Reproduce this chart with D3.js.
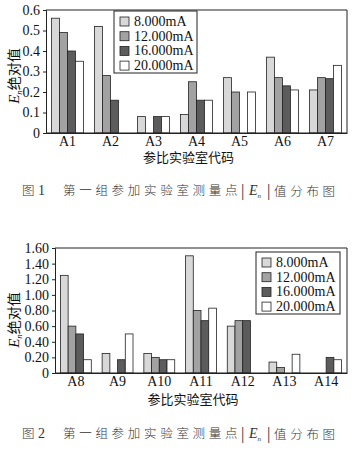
<!DOCTYPE html>
<html>
<head>
<meta charset="utf-8">
<script src="https://cdn.jsdelivr.net/npm/d3@7"></script>
<style>
  body { margin: 0; background: #fff; }
  text { font-family: "Liberation Serif", "Noto Sans CJK SC", serif; }
</style>
</head>
<body>
<div id="chart"></div>
<script>
// data
var series = ["8.000mA", "12.000mA", "16.000mA", "20.000mA"];
var colors = ["#d8d8d8", "#a2a2a2", "#5c5c5c", "#ffffff"];

var labs1 = ["A1", "A2", "A3", "A4", "A5", "A6", "A7"];
var s1_8  = [0.56, 0.52, 0.08, 0.09, 0.27, 0.37, 0.21];
var s1_12 = [0.49, 0.28, 0, 0.25, 0.20, 0.27, 0.27];
var s1_16 = [0.40, 0.16, 0.08, 0.16, 0, 0.23, 0.265];
var s1_20 = [0.35, 0, 0.08, 0.16, 0.20, 0.21, 0.33];
var ticks1 = [0, 0.1, 0.2, 0.3, 0.4, 0.5, 0.6];

var labs2 = ["A8", "A9", "A10", "A11", "A12", "A13", "A14"];
var s2_8  = [1.25, 0.25, 0.25, 1.50, 0.60, 0.14, 0];
var s2_12 = [0.60, 0, 0.20, 0.80, 0.67, 0.07, 0];
var s2_16 = [0.50, 0.17, 0.17, 0.67, 0.67, 0, 0.20];
var s2_20 = [0.17, 0.50, 0.17, 0.83, 0, 0.24, 0.17];
var ticks2 = [0, 0.2, 0.4, 0.6, 0.8, 1.0, 1.2, 1.4, 1.6];

var svg = d3.select("#chart").append("svg")
  .attr("width", 360)
  .attr("height", 450);

function drawChart(opt) {
  var g = svg.append("g");
  var x0 = d3.scaleBand().domain(opt.labs)
    .range([opt.left, opt.right])
    .paddingInner(0.26).paddingOuter(0.13);
  var x1 = d3.scaleBand().domain(series).range([0, x0.bandwidth()]);
  var y = d3.scaleLinear().domain([0, opt.max]).range([opt.bottom, opt.top]);

  var rows = [];
  opt.labs.forEach(function(l, i) {
    opt.vals.forEach(function(v, j) {
      rows.push({ lab: l, s: series[j], c: colors[j], v: v[i] });
    });
  });

  g.selectAll("rect.bar").data(rows.filter(d => d.v > 0)).enter()
    .append("rect")
    .attr("class", "bar")
    .attr("x", d => x0(d.lab) + x1(d.s))
    .attr("y", d => y(d.v))
    .attr("width", x1.bandwidth())
    .attr("height", d => opt.bottom - y(d.v))
    .attr("fill", d => d.c)
    .attr("stroke", "#222")
    .attr("stroke-width", 0.8);

  // frame
  g.append("path")
    .attr("d", `M${opt.left},${opt.top}H${opt.right}V${opt.bottom}H${opt.left}`)
    .attr("fill", "none")
    .attr("stroke", "#222")
    .attr("stroke-width", 1);

  var yAxis = d3.axisLeft(y).tickValues(opt.ticks).tickSize(3).tickFormat(opt.fmt);
  var ya = g.append("g").attr("transform", `translate(${opt.left},0)`).call(yAxis);
  ya.selectAll("text").attr("font-size", 14).attr("fill", "#111")
    .attr("font-family", "Liberation Serif");
  ya.selectAll("path,line").attr("stroke", "#222");

  var xAxis = d3.axisBottom(x0).tickSize(0).tickPadding(3);
  var xa = g.append("g").attr("transform", `translate(0,${opt.bottom})`).call(xAxis);
  xa.select("path").attr("stroke", "#222");
  xa.selectAll("text").attr("font-size", 14).attr("fill", "#111")
    .attr("font-family", "Liberation Serif");

  // axis titles
  var yt = g.append("text")
    .attr("transform", `translate(${opt.ytX},${opt.ytY}) rotate(-90)`)
    .attr("text-anchor", "middle")
    .attr("font-size", 15)
    .attr("fill", "#111");
  yt.append("tspan").attr("font-style", "italic").text("E");
  yt.append("tspan").attr("font-style", "italic").attr("font-size", 9).attr("dy", 3).text("n");
  yt.append("tspan").attr("dy", -3).attr("font-family", "Noto Sans CJK SC").attr("font-size", 14).text("绝对值");

  g.append("text")
    .attr("x", (opt.left + opt.right) / 2 - 8)
    .attr("y", opt.xtY)
    .attr("text-anchor", "middle")
    .attr("font-family", "Noto Sans CJK SC")
    .attr("font-size", 13)
    .attr("fill", "#111")
    .text("参比实验室代码");

  // legend
  var lg = g.append("g").attr("transform", `translate(${opt.lgX},${opt.lgY})`);
  lg.append("rect").attr("width", opt.lgW).attr("height", 62)
    .attr("fill", "#fff").attr("stroke", "#222").attr("stroke-width", 1);
  series.forEach(function(s, i) {
    lg.append("rect").attr("x", 6).attr("y", 6 + i * 14.7)
      .attr("width", 9).attr("height", 9)
      .attr("fill", colors[i]).attr("stroke", "#222").attr("stroke-width", 0.8);
    lg.append("text").attr("x", 20).attr("y", 15 + i * 14.7)
      .attr("font-size", 14).attr("fill", "#111").text(s);
  });

  // caption
  var cap = g.append("text")
    .attr("y", opt.capY)
    .attr("font-size", 12.5)
    .attr("fill", "#333")
    .attr("font-family", "Noto Sans CJK SC")
    .attr("font-weight", 300);
  cap.append("tspan").attr("x", 22).text("图");
  cap.append("tspan").attr("x", 38).attr("font-family", "Liberation Serif").attr("font-size", 14).text(opt.num);
  cap.append("tspan").attr("x", 63).attr("letter-spacing", 3.7).text("第一组参加实验室测量点");
  cap.append("tspan").attr("x", 241).attr("font-weight", 200).attr("font-size", 17).attr("dy", 1).text("|");
  cap.append("tspan").attr("x", 249).attr("font-family", "Liberation Serif").attr("font-style", "italic")
    .attr("font-size", 14).attr("dy", -1).text("E");
  cap.append("tspan").attr("font-family", "Liberation Serif").attr("font-style", "italic")
    .attr("font-size", 7).attr("dy", 3).text("n");
  cap.append("tspan").attr("x", 267).attr("font-weight", 200).attr("font-size", 17).attr("dy", -2).text("|");
  cap.append("tspan").attr("x", 274).attr("dy", 0).attr("letter-spacing", 3.7).text("值分布图");
}

drawChart({
  labs: labs1, vals: [s1_8, s1_12, s1_16, s1_20], max: 0.6, ticks: ticks1,
  fmt: d => d === 0 ? "0" : d.toFixed(1),
  left: 46, right: 347, top: 10, bottom: 133,
  ytX: 19, ytY: 76, xtY: 162,
  lgX: 114, lgY: 11, lgW: 83, num: "1", capY: 195
});

drawChart({
  labs: labs2, vals: [s2_8, s2_12, s2_16, s2_20], max: 1.6, ticks: ticks2,
  fmt: d => d === 0 ? "0" : d.toFixed(2),
  left: 55, right: 347, top: 248, bottom: 373,
  ytX: 19, ytY: 320, xtY: 404,
  lgX: 256, lgY: 252, lgW: 84, num: "2", capY: 438
});
</script>
</body>
</html>
